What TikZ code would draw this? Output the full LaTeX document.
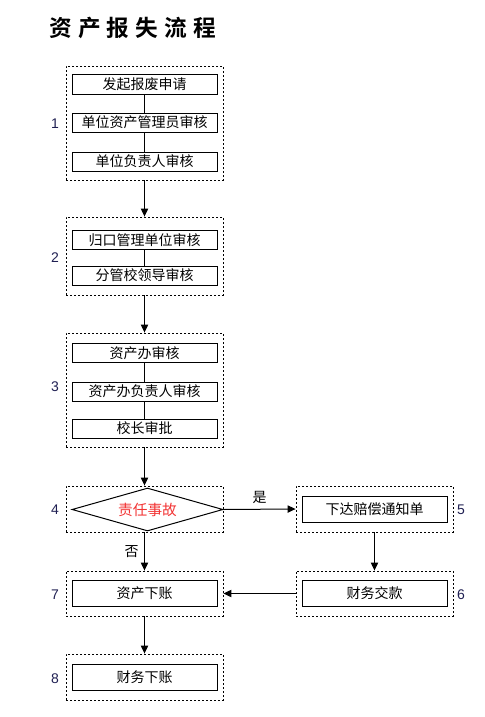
\documentclass[tikz,border=0pt]{standalone}
\usepackage{fontspec}
\setmainfont{Liberation Sans}
\newfontfamily\cjk{Noto Sans CJK SC}
\newfontfamily\cjkb{Noto Sans CJK SC Bold}
\usetikzlibrary{arrows.meta,shapes.geometric}
\definecolor{numcol}{rgb}{0.12,0.12,0.32}
\definecolor{redtxt}{rgb}{0.95,0.2,0.2}
\tikzset{
  grp/.style={draw=black, line width=0.65pt, dash pattern=on 1.6pt off 1.4pt, minimum width=157*0.75pt, inner sep=0pt},
  stepbox/.style={draw=black, line width=0.75pt, minimum width=145*0.75pt, minimum height=19*0.75pt, inner sep=0pt, font=\cjk\fontsize{10.5pt}{12pt}\selectfont},
  bigbox/.style={stepbox, minimum height=26*0.75pt},
  num/.style={text=numcol, font=\fontsize{10.5pt}{12pt}\selectfont, inner sep=0pt},
  lbl/.style={font=\cjk\fontsize{10.5pt}{12pt}\selectfont, inner sep=0pt},
  link/.style={draw=black, line width=0.75pt},
  arr/.style={draw=black, line width=0.75pt, -{Triangle[length=6pt,width=5.5pt]}}
}
\begin{document}
\begin{tikzpicture}[x=0.75pt,y=-0.75pt]
\useasboundingbox (0,0) rectangle (485,717);
% title
\node[anchor=west, inner sep=0pt, font=\cjkb\fontsize{17pt}{19pt}\selectfont] (title) at (49,28)
  {资\kern4.6pt 产\kern4.6pt 报\kern4.6pt 失\kern4.6pt 流\kern4.6pt 程};
% groups
\node[grp, minimum height=114*0.75pt] (g1) at (144.5,123) {};
\node[grp, minimum height=78*0.75pt] (g2) at (144.5,256) {};
\node[grp, minimum height=114*0.75pt] (g3) at (144.5,390) {};
\node[grp, minimum height=46*0.75pt] (g4) at (144.5,509) {};
\node[grp, minimum height=46*0.75pt] (g5) at (374.5,509) {};
\node[grp, minimum height=45*0.75pt] (g6) at (374.5,593.5) {};
\node[grp, minimum height=45*0.75pt] (g7) at (144.5,593.5) {};
\node[grp, minimum height=46*0.75pt] (g8) at (144.5,677) {};
% steps
\node[stepbox] (a1) at (144.5,84.5) {发起报废申请};
\node[stepbox] (a2) at (144.5,122.5) {单位资产管理员审核};
\node[stepbox] (a3) at (144.5,161.5) {单位负责人审核};
\node[stepbox] (b1) at (144.5,240) {归口管理单位审核};
\node[stepbox] (b2) at (144.5,275.5) {分管校领导审核};
\node[stepbox] (c1) at (144.5,353) {资产办审核};
\node[stepbox] (c2) at (144.5,391.5) {资产办负责人审核};
\node[stepbox] (c3) at (144.5,428.5) {校长审批};
\node[draw=black, line width=0.75pt, shape=diamond, aspect=3.5, minimum width=151*0.75pt, minimum height=43*0.75pt, inner sep=0pt, text=redtxt, font=\cjk\fontsize{11pt}{12pt}\selectfont] (d) at (147.5,509.5) {责任事故};
\node[bigbox] (e) at (374.5,509) {下达赔偿通知单};
\node[bigbox] (f) at (374.5,593.5) {财务交款};
\node[bigbox] (h) at (144.5,593.5) {资产下账};
\node[bigbox] (k) at (144.5,677) {财务下账};
% numbers
\node[num] (n1) at (55,124) {1};
\node[num] (n2) at (55,258) {2};
\node[num] (n3) at (55,387) {3};
\node[num] (n4) at (55,510) {4};
\node[num] (n5) at (461,510) {5};
\node[num] (n6) at (461,595) {6};
\node[num] (n7) at (55,595) {7};
\node[num] (n8) at (55,679) {8};
% inner links
\draw[link] (a1) -- (a2);
\draw[link] (a2) -- (a3);
\draw[link] (b1) -- (b2);
\draw[link] (c1) -- (c2);
\draw[link] (c2) -- (c3);
% arrows
\draw[arr] (g1.south) -- (g2.north);
\draw[arr] (g2.south) -- (g3.north);
\draw[arr] (g3.south) -- (g4.north);
\draw[arr] (d.east) -- (g5.west) node[lbl, midway, above=4pt] (yes) {是};
\draw[arr] (g4.south) -- (g7.north) node[lbl, pos=0.5, left=4pt] (no) {否};
\draw[arr] (g5.south) -- (g6.north);
\draw[arr] (g6.west) -- (g7.east);
\draw[arr] (g7.south) -- (g8.north);
\end{tikzpicture}
\end{document}
